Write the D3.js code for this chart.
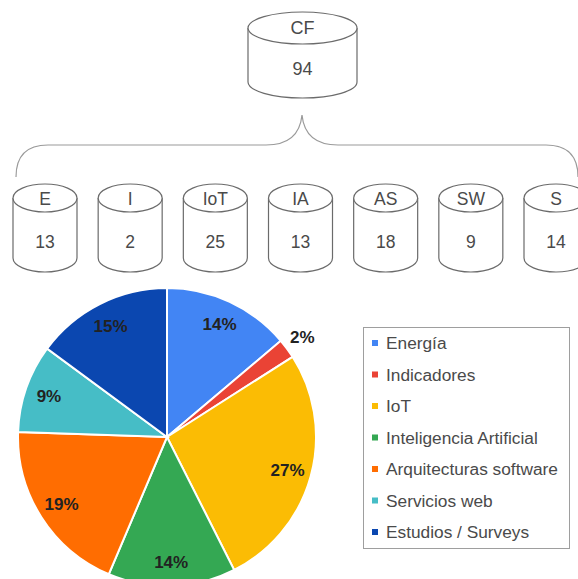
<!DOCTYPE html>
<html>
<head>
<meta charset="utf-8">
<script src="https://cdn.jsdelivr.net/npm/d3@7"></script>
<style>
  body { margin: 0; background: #fff; }
  text { font-family: "Liberation Sans", Arial, sans-serif; }
</style>
</head>
<body>
<svg width="578" height="579"></svg>
<script>
const svg = d3.select('svg');

// data
const rootCode = 'CF';
const rootTotal = 94;
const codes = ['E', 'I', 'IoT', 'IA', 'AS', 'SW', 'S'];
const counts = [13, 2, 25, 13, 18, 9, 14];
const categories = ['Energía', 'Indicadores', 'IoT', 'Inteligencia Artificial',
  'Arquitecturas software', 'Servicios web', 'Estudios / Surveys'];
const pctLabels = ['14%', '2%', '27%', '14%', '19%', '9%', '15%'];
const colors = ['#4285f4', '#ea4335', '#fbbc04', '#34a853', '#ff6d01', '#46bdc6', '#0b47b0'];

const stroke = '#6b6b6b';
const textColor = '#4a4a4a';

// cylinder helper: cx, top ellipse center y, rx, ry, body height
const cylinder = (g, cx, cy, rx, ry, h) => {
  g.append('path')
    .attr('d', `M${cx - rx},${cy} L${cx - rx},${cy + h}
      A${rx},${ry} 0 0 0 ${cx + rx},${cy + h} L${cx + rx},${cy}`)
    .attr('fill', '#fff')
    .attr('stroke', stroke)
    .attr('stroke-width', 1.2);
  g.append('ellipse')
    .attr('cx', cx).attr('cy', cy)
    .attr('rx', rx).attr('ry', ry)
    .attr('fill', '#fff')
    .attr('stroke', stroke)
    .attr('stroke-width', 1.2);
};

// top cylinder
const rootG = svg.append('g');
cylinder(rootG, 302.5, 28, 54.5, 16, 54);
rootG.append('text').attr('x', 302.5).attr('y', 34)
  .attr('text-anchor', 'middle').attr('font-size', 18).attr('fill', textColor)
  .text(rootCode);
rootG.append('text').attr('x', 302.5).attr('y', 75)
  .attr('text-anchor', 'middle').attr('font-size', 18).attr('fill', textColor)
  .text(rootTotal);

// brace
svg.append('path')
  .attr('d', 'M16,177 Q16,145 48,145 L266,145 Q299,145 302,115 Q305,145 338,145 L546,145 Q578,145 578,177')
  .attr('fill', 'none')
  .attr('stroke', '#9a9a9a')
  .attr('stroke-width', 1.2);

// row of cylinders
const xCyl = d3.scalePoint().domain(codes).range([45, 556]);
const row = svg.append('g');
codes.forEach((c, i) => {
  const g = row.append('g');
  cylinder(g, xCyl(c), 198, 32, 14, 60);
  g.append('text').attr('x', xCyl(c)).attr('y', 205)
    .attr('text-anchor', 'middle').attr('font-size', 17.5).attr('fill', textColor)
    .text(c);
  g.append('text').attr('x', xCyl(c)).attr('y', 248)
    .attr('text-anchor', 'middle').attr('font-size', 17.5).attr('fill', textColor)
    .text(counts[i]);
});

// pie
const radius = 149;
const pieG = svg.append('g').attr('transform', 'translate(167,437)');
const arcs = d3.pie().sort(null).value(d => d)(counts);
const arc = d3.arc().innerRadius(0).outerRadius(radius);

pieG.selectAll('path').data(arcs)
  .enter().append('path')
    .attr('d', arc)
    .attr('fill', (d, i) => colors[i])
    .attr('stroke', '#fff')
    .attr('stroke-width', 2);

const labelArc = d3.arc().innerRadius(125).outerRadius(125);
const outerArc = d3.arc().innerRadius(radius + 19).outerRadius(radius + 19);

pieG.selectAll('text').data(arcs)
  .enter().append('text')
    .attr('transform', (d, i) => {
      const small = (d.endAngle - d.startAngle) < 0.2;
      return `translate(${(small ? outerArc : labelArc).centroid(d)})`;
    })
    .attr('dy', '0.36em')
    .attr('text-anchor', 'middle')
    .attr('font-size', 17)
    .attr('font-weight', 'bold')
    .attr('fill', '#222')
    .text((d, i) => pctLabels[i]);

// legend
const legend = svg.append('g');
legend.append('rect')
  .attr('x', 363.5).attr('y', 327.5)
  .attr('width', 206).attr('height', 221)
  .attr('fill', '#fff')
  .attr('stroke', '#9e9e9e');

const yLeg = d3.scalePoint().domain(categories).range([343, 532]);
categories.forEach((c, i) => {
  legend.append('rect')
    .attr('x', 372).attr('y', yLeg(c) - 3)
    .attr('width', 6).attr('height', 6)
    .attr('fill', colors[i]);
  legend.append('text')
    .attr('x', 386).attr('y', yLeg(c))
    .attr('dy', '0.35em')
    .attr('font-size', 17.3)
    .attr('fill', textColor)
    .text(c);
});
</script>
</body>
</html>
